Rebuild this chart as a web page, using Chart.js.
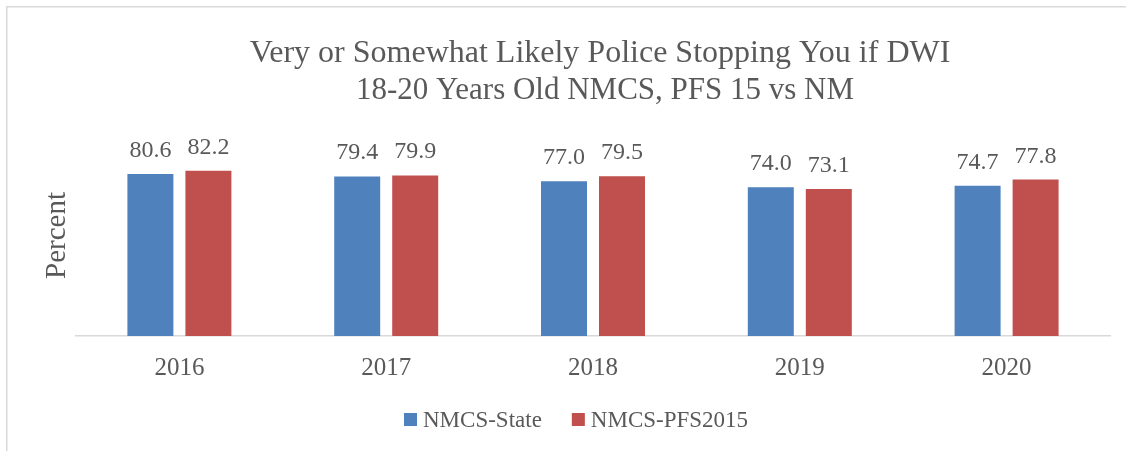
<!DOCTYPE html>
<html>
<head>
<meta charset="utf-8">
<script src="https://cdn.jsdelivr.net/npm/chart.js@4.4.1/dist/chart.umd.min.js"></script>
<style>
html,body{margin:0;padding:0;background:#fff;}
#wrap{width:1126px;height:451px;position:relative;}
</style>
</head>
<body>
<div id="wrap"><canvas id="c" width="1126" height="451"></canvas></div>
<script>
const categories = ["2016", "2017", "2018", "2019", "2020"];
const seriesNames = ["NMCS-State", "NMCS-PFS2015"];
const stateValues = [80.6, 79.4, 77.0, 74.0, 74.7];
const pfsValues = [82.2, 79.9, 79.5, 73.1, 77.8];
const titleLines = ["Very or Somewhat Likely Police Stopping You if DWI", "18-20 Years Old NMCS, PFS 15 vs NM"];
const yAxisTitle = "Percent";

const FONT = "'Liberation Serif', 'Times New Roman', serif";
const TEXT = "#595959";

const bgPlugin = {
  id: 'bg',
  beforeDraw(chart) {
    const ctx = chart.ctx;
    ctx.save();
    ctx.fillStyle = '#fff';
    ctx.fillRect(0, 0, chart.width, chart.height);
    ctx.strokeStyle = '#D9D9D9';
    ctx.lineWidth = 1.5;
    ctx.beginPath();
    ctx.moveTo(6.75, chart.height);
    ctx.lineTo(6.75, 6.75);
    ctx.lineTo(chart.width, 6.75);
    ctx.stroke();
    ctx.restore();
  }
};

const titlePlugin = {
  id: 'titleLines',
  afterDraw(chart) {
    const ctx = chart.ctx;
    ctx.save();
    ctx.fillStyle = TEXT;
    ctx.textAlign = 'center';
    ctx.textBaseline = 'alphabetic';
    ctx.font = "32px " + FONT;
    ctx.fillText(titleLines[0], 600, 62);
    ctx.font = "31px " + FONT;
    ctx.fillText(titleLines[1], 605, 99);
    ctx.restore();
  }
};

const legendPlugin = {
  id: 'customLegend',
  afterDraw(chart) {
    const ctx = chart.ctx;
    ctx.save();
    ctx.font = "23px " + FONT;
    ctx.textAlign = 'left';
    ctx.textBaseline = 'alphabetic';
    let x = 404;
    chart.data.datasets.forEach((ds) => {
      ctx.fillStyle = ds.backgroundColor;
      ctx.fillRect(x, 413, 13, 13);
      x += 19;
      ctx.fillStyle = TEXT;
      ctx.fillText(ds.label, x, 427);
      x += ctx.measureText(ds.label).width + 30;
    });
    ctx.restore();
  }
};

const labelPlugin = {
  id: 'vals',
  afterDatasetsDraw(chart) {
    const ctx = chart.ctx;
    ctx.save();
    ctx.font = "24px " + FONT;
    ctx.fillStyle = TEXT;
    ctx.textAlign = 'center';
    ctx.textBaseline = 'alphabetic';
    chart.data.datasets.forEach((ds, i) => {
      const meta = chart.getDatasetMeta(i);
      meta.data.forEach((bar, j) => {
        ctx.fillText(ds.data[j].toFixed(1), bar.x, bar.y - 17);
      });
    });
    ctx.restore();
  }
};

new Chart(document.getElementById('c'), {
  type: 'bar',
  data: {
    labels: categories,
    datasets: [
      { label: seriesNames[0], data: stateValues, backgroundColor: '#4F81BD', borderWidth: 0 },
      { label: seriesNames[1], data: pfsValues, backgroundColor: '#C0504D', borderWidth: 0 }
    ]
  },
  options: {
    responsive: false,
    animation: false,
    events: [],
    layout: { padding: { left: 8, right: 16, top: 135, bottom: 75 } },
    datasets: { bar: { categoryPercentage: 0.561, barPercentage: 0.793 } },
    plugins: {
      title: { display: false },
      legend: { display: false },
      tooltip: { enabled: false }
    },
    scales: {
      x: {
        grid: { display: false },
        border: { display: true, color: '#D9D9D9', width: 1.5 },
        ticks: { color: TEXT, font: { family: FONT, size: 25 }, padding: 9 },
        afterFit(scale) { scale.height = 40; }
      },
      y: {
        min: 0, max: 100,
        grid: { display: false },
        border: { display: false },
        ticks: { display: false },
        title: { display: true, text: yAxisTitle, color: TEXT, font: { family: FONT, size: 29 }, padding: { top: 32, bottom: 0 } },
        afterFit(scale) { scale.width = 68; }
      }
    }
  },
  plugins: [bgPlugin, labelPlugin, titlePlugin, legendPlugin]
});
</script>
</body>
</html>
